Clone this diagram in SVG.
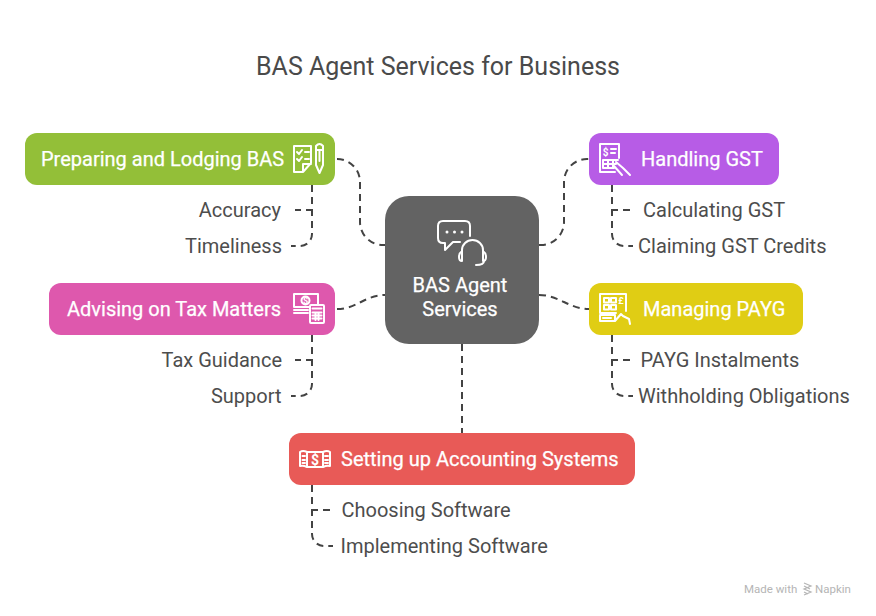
<svg xmlns="http://www.w3.org/2000/svg" width="876" height="616" viewBox="0 0 876 616">
<style>
text{font-family:Roboto,"Liberation Sans",sans-serif}
.t{font-size:25px;fill:#4a4a4a}
.n{font-size:20px;fill:#fff;stroke:#fff;stroke-width:.25}
.l{font-size:20px;fill:#4d4d4d}
.c{fill:none;stroke:#434343;stroke-width:2;stroke-dasharray:7 5}
.i{fill:none;stroke:#fff;stroke-width:2;stroke-linejoin:round;stroke-linecap:round}
.s{text-anchor:end}
.m{text-anchor:middle}
</style>
<rect width="876" height="616" fill="#fff"/>
<text class="t" x="438" y="75" text-anchor="middle">BAS Agent Services for Business</text>
<g id="connectors">
<path class="c" d="M337 159A23 23 0 0 1 360 182V222A23 23 0 0 0 383 245H385"/>
<path class="c" d="M337 309C357 309 365 295 385 295"/>
<path class="c" d="M539 245H541A23 23 0 0 0 564 222V182A23 23 0 0 1 587 159H589"/>
<path class="c" d="M539 295C559 295 569 309 589 309"/>
<path class="c" d="M462 344V433"/>
<path class="c" d="M312 185V210H295"/>
<path class="c" d="M312 185V234A12 12 0 0 1 300 246H291"/>
<path class="c" d="M312 335V360H295"/>
<path class="c" d="M312 335V384A12 12 0 0 1 300 396H291"/>
<path class="c" d="M612 185V210H630"/>
<path class="c" d="M612 185V234A12 12 0 0 0 624 246H633"/>
<path class="c" d="M612 335V360H630"/>
<path class="c" d="M612 335V384A12 12 0 0 0 624 396H633"/>
<path class="c" d="M312 485V510H330"/>
<path class="c" d="M312 485V534A12 12 0 0 0 324 546H333"/>
</g>
<g id="center">
<rect x="385" y="196" width="154" height="148" rx="24" fill="#636363"/>
<path class="i" d="M470 236V226Q470 221 465 221H443Q438 221 438 226V238Q438 243 443 243H445V250L453 242H460"/>
<circle cx="447" cy="232" r="1.500" fill="#fff"/><circle cx="454.500" cy="232" r="1.500" fill="#fff"/><circle cx="462" cy="232" r="1.500" fill="#fff"/>
<path class="i" d="M462 251V250A10.500 10 0 0 1 483 250V251M462 251Q459 253 459 257Q459 261 462 261ZM483 251Q486 253 486 257Q486 261 483 261ZM484 261Q484 265 476 265"/>
<text class="n m" x="460" y="292">BAS Agent</text>
<text class="n m" x="460" y="316">Services</text>
</g>
<g id="prep">
<rect x="25" y="133" width="310" height="52" rx="12" fill="#93bf38"/>
<text class="n" x="41" y="166">Preparing and Lodging BAS</text>
<path class="i" d="M294 146H311V163L303 172H294ZM303 172V164H311M297 152L299 154L302 150M305 152H309M297 159L299 161L302 157M305 159H309"/>
<path class="i" d="M316 146Q319.500 142 323 146V165L319.500 173L316 165ZM316 150H323M319.500 151V161"/>
<text class="l s" x="281" y="217">Accuracy</text>
<text class="l s" x="282" y="253">Timeliness</text>
</g>
<g id="advise">
<rect x="49" y="283" width="286" height="52" rx="12" fill="#de58ad"/>
<text class="n" x="67" y="316">Advising on Tax Matters</text>
<path class="i" d="M294 294H318V304M309 307H294ZM294 294V307M294 310H308M294 313H308"/>
<circle class="i" cx="305.500" cy="300.500" r="4"/>
<text x="305.500" y="304" font-size="9" font-weight="700" fill="#fff" text-anchor="middle">$</text>
<rect class="i" x="310" y="305" width="14" height="18" rx="1" fill="#de58ad"/>
<path class="i" d="M312.500 308.500H321.500M312.500 312.500H321.500M312.500 315.500H321.500M312.500 318.500H321.500M315.500 312.500V320M318.500 312.500V320"/>
<text class="l s" x="282" y="367">Tax Guidance</text>
<text class="l s" x="281.500" y="403">Support</text>
</g>
<g id="gst">
<rect x="589" y="133" width="190" height="52" rx="12" fill="#b75ce6"/>
<text class="n" x="641" y="166">Handling GST</text>
<path class="i" d="M615 172H600V144H619V158M603 160H618M603 160V168H614M608 160V168M613 160V168M603 164H616M611 149H616M611 153H615M616 162L623 168L630 175M622 175L614 166"/>
<text x="605.500" y="156" font-size="10" font-weight="700" fill="#fff" text-anchor="middle">$</text>
<text class="l" x="643" y="217">Calculating GST</text>
<text class="l" x="638" y="253">Claiming GST Credits</text>
</g>
<g id="payg">
<rect x="589" y="283" width="214" height="52" rx="12" fill="#e0cd14"/>
<text class="n" x="643" y="316">Managing PAYG</text>
<path class="i" d="M616 313H600V294H626V311M604 298H609V302.500H604ZM611 298H616V302.500H611ZM604 305H609V309.500H604ZM611 305H616V309.500H611ZM600 315H615V321H600ZM603 318H611M615 321L621 314L623 316L629 319L630 324"/>
<text x="621" y="304" font-size="9" font-weight="700" fill="#fff" text-anchor="middle">£</text>
<text class="l" x="640.500" y="367">PAYG Instalments</text>
<text class="l" x="638" y="403">Withholding Obligations</text>
</g>
<g id="setup">
<rect x="289" y="433" width="346" height="52" rx="12" fill="#e85a57"/>
<text class="n" x="341" y="466">Setting up Accounting Systems</text>
<path class="i" d="M307 452Q303 450 300 452V466Q303 465 307 467ZM323 452Q327 450 330 452V466Q327 465 323 467ZM307 452H323V467H307ZM302.500 456H305M302.500 460H305M302.500 463H305M325 456H328M325 460H328M325 463H328"/>
<text x="315" y="465" font-size="14" font-weight="700" fill="#fff" text-anchor="middle">$</text>
<text class="l" x="341.500" y="517">Choosing Software</text>
<text class="l" x="340.500" y="553">Implementing Software</text>
</g>
<g id="credit">
<text x="744" y="593" font-size="11.500" fill="#b5b5b5">Made with</text>
<path d="M804 583L811 586L804 589L811 592L804 595M804 586L810 589M804 592L808 594" fill="none" stroke="#b5b5b5" stroke-width="1.200"/>
<text x="815" y="593" font-size="11.500" fill="#b5b5b5">Napkin</text>
</g>
</svg>
